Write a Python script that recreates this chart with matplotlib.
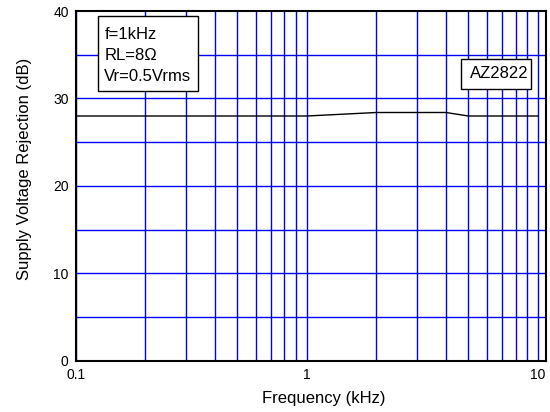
import matplotlib
matplotlib.use("Agg")
import matplotlib.pyplot as plt
from matplotlib.patches import Rectangle

plt.rcParams['font.family'] = ['Liberation Sans', 'DejaVu Sans']

# Supply voltage rejection vs. frequency
freq_khz = [0.1, 0.2, 0.5, 1.0, 2.0, 3.0, 4.0, 5.0, 7.0, 10.0]
svr_db = [28.0, 28.0, 28.0, 28.0, 28.4, 28.4, 28.4, 28.0, 28.0, 28.0]

x_ticks = [0.1, 1, 10]
x_tick_labels = ["0.1", "1", "10"]
y_ticks = [0, 10, 20, 30, 40]
conditions = ["f=1kHz", "RL=8\u03a9", "Vr=0.5Vrms"]
part_name = "AZ2822"

fig = plt.figure(figsize=(5.5, 4.12), dpi=100)
ax = fig.add_axes([0.1376, 0.1238, 0.8545, 0.8495])

ax.set_xscale("log")
ax.set_xlim(0.1, 10.8)
ax.set_ylim(0, 40)

# grid: every decade step on x, every 5 dB on y
x_grid = [m * 10.0 ** e for e in (-1, 0) for m in range(1, 10)] + [10.0]
y_grid = list(range(5, 40, 5))
for xv in x_grid:
    ax.axvline(xv, color="#0000ff", lw=1.0, zorder=1)
for yv in y_grid:
    ax.axhline(yv, color="#0000ff", lw=1.0, zorder=1)

ax.plot(freq_khz, svr_db, color="black", lw=1.0, zorder=3)

ax.set_xticks(x_ticks)
ax.set_xticklabels(x_tick_labels)
ax.set_xticks([], minor=True)
ax.set_yticks(y_ticks)
ax.tick_params(axis="both", length=0, labelsize=10, pad=5)

for s in ax.spines.values():
    s.set_linewidth(1.5)
    s.set_zorder(4)

ax.set_xlabel("Frequency (kHz)", fontsize=12)
ax.set_ylabel("Supply Voltage Rejection (dB)", fontsize=12)
ax.xaxis.set_label_coords(0.528, -0.086)
ax.yaxis.set_label_coords(-0.093, 0.549)

# test-condition box
ax.add_patch(Rectangle((0.0468, 0.7723), 0.2132, 0.2134, transform=ax.transAxes,
                       facecolor="white", edgecolor="black", lw=1.0, zorder=5))
for txt, yb in zip(conditions, [0.920, 0.860, 0.800]):
    ax.text(0.0609, yb, txt, transform=ax.transAxes, fontsize=12,
            va="baseline", ha="left", zorder=6)

# part-number box
ax.add_patch(Rectangle((0.819, 0.777), 0.1506, 0.0859, transform=ax.transAxes,
                       facecolor="white", edgecolor="black", lw=1.0, zorder=5))
ax.text(0.9015, 0.8077, part_name, transform=ax.transAxes, fontsize=12,
        va="baseline", ha="center", zorder=6)

fig.savefig("out.png", dpi=100)
